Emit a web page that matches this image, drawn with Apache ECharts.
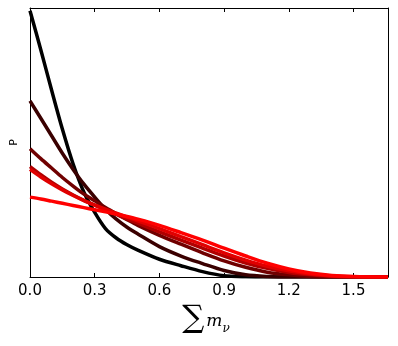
<!DOCTYPE html>
<html>
<head>
<meta charset="utf-8">
<script src="https://cdn.jsdelivr.net/npm/echarts@6/dist/echarts.min.js"></script>
<style>
  html, body { margin: 0; padding: 0; background: #fff; }
  #chart { width: 398px; height: 346px; }
</style>
</head>
<body>
<div id="chart"></div>
<script>
// sum of neutrino masses (x) and the probability curves
var masses = [0, 0.05, 0.1, 0.15, 0.2, 0.25, 0.3, 0.35, 0.4, 0.45, 0.5, 0.6, 0.7, 0.8, 0.9, 1.0, 1.1, 1.2, 1.3, 1.4, 1.5, 1.66]
var curve1 = [0.99, 0.845, 0.695, 0.55, 0.42, 0.315, 0.24, 0.18, 0.145, 0.12, 0.1, 0.066, 0.042, 0.02, 0.005, 0.001, 0, 0, 0, 0, 0, 0]
var curve2 = [0.655, 0.59, 0.525, 0.46, 0.4, 0.345, 0.297, 0.252, 0.215, 0.185, 0.16, 0.113, 0.078, 0.05, 0.024, 0.008, 0.002, 0, 0, 0, 0, 0]
var curve3 = [0.477, 0.44, 0.405, 0.37, 0.338, 0.308, 0.283, 0.258, 0.235, 0.213, 0.192, 0.155, 0.122, 0.09, 0.06, 0.036, 0.018, 0.008, 0.002, 0, 0, 0]
var curve4 = [0.41, 0.38, 0.352, 0.327, 0.305, 0.285, 0.267, 0.25, 0.233, 0.216, 0.2, 0.168, 0.137, 0.107, 0.078, 0.052, 0.032, 0.017, 0.008, 0.003, 0.001, 0]
var curve5 = [0.4, 0.372, 0.347, 0.324, 0.303, 0.284, 0.267, 0.252, 0.237, 0.223, 0.209, 0.18, 0.15, 0.12, 0.09, 0.063, 0.04, 0.023, 0.011, 0.004, 0.001, 0]
var curve6 = [0.297, 0.29, 0.282, 0.274, 0.266, 0.258, 0.25, 0.242, 0.234, 0.225, 0.215, 0.192, 0.165, 0.137, 0.107, 0.078, 0.051, 0.03, 0.015, 0.006, 0.002, 0]
var curves = [curve1, curve2, curve3, curve4, curve5, curve6]
var colors = ['#000000', '#3a0000', '#700000', '#b00000', '#e00000', '#ff0000']
var xTicks = { min: 0, max: 1.66, interval: 0.3 }

var chart = echarts.init(document.getElementById('chart'))

var series = curves.map(function (c, i) {
  return {
    type: 'line',
    data: masses.map(function (m, j) { return [m, c[j]] }),
    smooth: 0.3,
    showSymbol: false,
    lineStyle: { color: colors[i], width: 3.5 },
    clip: true
  }
})

chart.setOption({
  animation: false,
  grid: { left: 30, right: 10, top: 8, bottom: 69 },
  xAxis: [
    {
      type: 'value', position: 'bottom',
      min: xTicks.min, max: xTicks.max, interval: xTicks.interval,
      axisLine: { onZero: false, lineStyle: { color: '#000', width: 1 } },
      axisTick: { inside: true, length: 4, lineStyle: { color: '#000' } },
      axisLabel: {
        showMaxLabel: false, margin: 7,
        color: '#000', fontFamily: 'DejaVu Sans', fontSize: 15,
        formatter: function (v) { return v.toFixed(1) }
      },
      splitLine: { show: false },
      name: '{s|∑}{m|m}{n|ν}',
      nameLocation: 'middle',
      nameGap: 24,
      nameTextStyle: {
        rich: {
          s: { fontFamily: 'DejaVu Serif', fontSize: 31, color: '#000', lineHeight: 36 },
          m: { fontFamily: 'DejaVu Serif', fontStyle: 'italic', fontSize: 17, color: '#000', lineHeight: 36, padding: [4, 0, 0, 2] },
          n: { fontFamily: 'DejaVu Serif', fontStyle: 'italic', fontSize: 12, color: '#000', lineHeight: 36, padding: [18, 6, 0, 0] }
        }
      }
    },
    {
      type: 'value', position: 'top',
      min: xTicks.min, max: xTicks.max, interval: xTicks.interval,
      axisLine: { onZero: false, lineStyle: { color: '#000', width: 1 } },
      axisTick: { inside: true, length: 4, lineStyle: { color: '#000' } },
      axisLabel: { show: false },
      splitLine: { show: false }
    }
  ],
  yAxis: [
    {
      type: 'value', position: 'left', min: 0, max: 1,
      axisLine: { show: true, onZero: false, lineStyle: { color: '#000', width: 1 } },
      axisTick: { show: false },
      axisLabel: { show: false },
      splitLine: { show: false },
      name: 'P',
      nameLocation: 'middle',
      nameRotate: 90,
      nameGap: 10,
      nameTextStyle: { fontFamily: 'DejaVu Sans', fontSize: 11, color: '#000' }
    },
    {
      type: 'value', position: 'right', min: 0, max: 1,
      axisLine: { show: true, onZero: false, lineStyle: { color: '#000', width: 1 } },
      axisTick: { show: false },
      axisLabel: { show: false },
      splitLine: { show: false }
    }
  ],
  series: series
})
</script>
</body>
</html>
